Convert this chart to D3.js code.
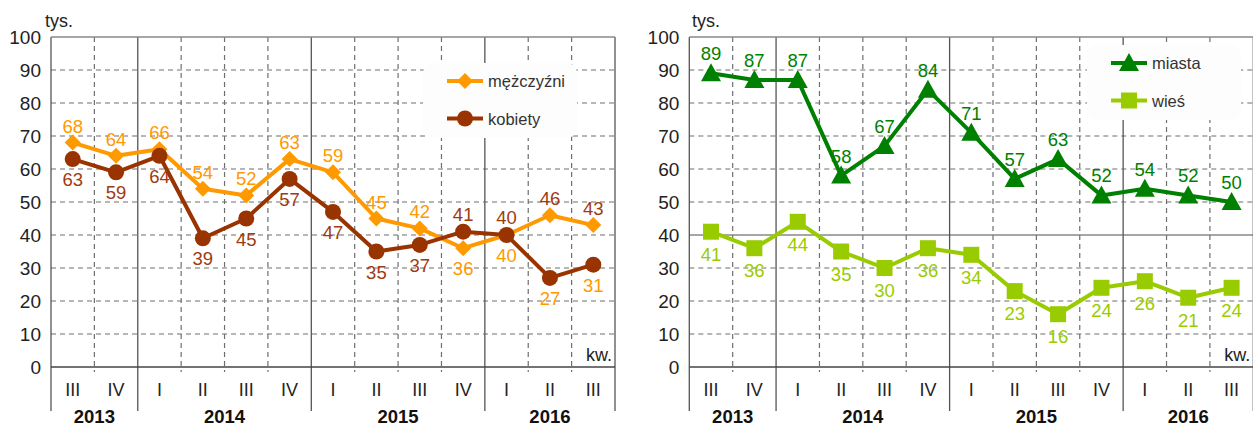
<!DOCTYPE html>
<html>
<head>
<meta charset="utf-8">
<script src="https://cdn.jsdelivr.net/npm/d3@7"></script>
<style>
  body { margin: 0; background: #fff; }
  svg { display: block; font-family: Arial, "Liberation Sans", sans-serif; }
</style>
</head>
<body>
<div id="chart"></div>
<script>
// data
const quarters = ["III", "IV", "I", "II", "III", "IV", "I", "II", "III", "IV", "I", "II", "III"];
const years = ["2013", "2014", "2015", "2016"];
const quartersPerYear = [2, 4, 4, 3];
const yTicks = [0, 10, 20, 30, 40, 50, 60, 70, 80, 90, 100];

const men = [68, 64, 66, 54, 52, 63, 59, 45, 42, 36, 40, 46, 43];
const women = [63, 59, 64, 39, 45, 57, 47, 35, 37, 41, 40, 27, 31];
const cities = [89, 87, 87, 58, 67, 84, 71, 57, 63, 52, 54, 52, 50];
const villages = [41, 36, 44, 35, 30, 36, 34, 23, 16, 24, 26, 21, 24];

// label placement (a = above, b = below)
const menSide = ["a","a","a","a","a","a","a","a","a","b","b","a","a"];
const womenSide = ["b","b","b","b","b","b","b","b","b","a","a","b","b"];
// the original swaps label colours for the last two quarters
const menLabelSwap = [11, 12];
const womenLabelSwap = [11, 12];

const ORANGE = "#ff9900", BROWN = "#993300", DKGREEN = "#008000", LTGREEN = "#99cc00";

const svgWidth = 1253, svgHeight = 428;
const svg = d3.select("#chart").append("svg")
  .attr("width", svgWidth)
  .attr("height", svgHeight);

const plotW = 564, yTop = 37, yBot = 367;

const shapes = {
  diamond: "M0,-8L8,0L0,8L-8,0Z",
  triangle: "M0,-10L10,8L-10,8Z",
  square: "M-8,-8H8V8H-8Z"
};

function drawPanel(cfg) {
  const g = svg.append("g");
  const x0 = cfg.x0;

  const x = d3.scaleBand().domain(d3.range(quarters.length)).range([x0, x0 + plotW]);
  const y = d3.scaleLinear().domain([0, 100]).range([yBot, yTop]);
  const cx = i => x(i) + x.bandwidth() / 2;

  // horizontal grid
  g.selectAll(".hgrid")
    .data(yTicks.filter(d => d > 0 && d < 100))
    .enter().append("line")
    .attr("x1", x0).attr("x2", x0 + plotW)
    .attr("y1", d => y(d)).attr("y2", d => y(d))
    .attr("stroke", d => cfg.solidH.includes(d) ? "#888" : "#6f6f6f")
    .attr("stroke-width", d => cfg.solidH.includes(d) ? 1.6 : 1.2)
    .attr("stroke-dasharray", d => cfg.solidH.includes(d) ? null : "5,4");

  // year boundaries
  const yearBounds = [0];
  quartersPerYear.forEach((n, i) => yearBounds.push(yearBounds[i] + n));
  const innerBounds = d3.range(1, quarters.length).filter(b => !yearBounds.includes(b));

  // quarter dividers (dashed) with small ticks below axis
  innerBounds.forEach(b => {
    g.append("line")
      .attr("x1", x(b)).attr("x2", x(b))
      .attr("y1", yTop).attr("y2", yBot + 5)
      .attr("stroke", "#6f6f6f").attr("stroke-width", 1.2)
      .attr("stroke-dasharray", "5,4");
  });

  // year dividers, left axis and right border
  yearBounds.forEach(b => {
    const xx = b === quarters.length ? x0 + plotW : x(b);
    g.append("line")
      .attr("x1", xx).attr("x2", xx)
      .attr("y1", yTop).attr("y2", 411)
      .attr("stroke", "#555").attr("stroke-width", 1.3);
  });

  // top border and zero line
  g.append("line").attr("x1", x0).attr("x2", x0 + plotW)
    .attr("y1", y(100)).attr("y2", y(100))
    .attr("stroke", "#888").attr("stroke-width", 1.4);
  g.append("line").attr("x1", x0).attr("x2", x0 + plotW)
    .attr("y1", y(0)).attr("y2", y(0))
    .attr("stroke", "#444").attr("stroke-width", 1.4);

  // y tick labels
  g.selectAll(".ytick")
    .data(yTicks)
    .enter().append("text")
    .attr("x", x0 - 10)
    .attr("y", d => y(d) + 7)
    .attr("text-anchor", "end")
    .attr("font-size", 19)
    .attr("fill", "#222")
    .text(d => d);

  g.append("text")
    .attr("x", cfg.tysX).attr("y", 27)
    .attr("font-size", 18).attr("fill", "#222")
    .text("tys.");

  g.append("text")
    .attr("x", x0 + 535).attr("y", 361)
    .attr("font-size", 18).attr("fill", "#222")
    .text("kw.");

  // quarter labels
  g.selectAll(".qlab")
    .data(quarters)
    .enter().append("text")
    .attr("x", (d, i) => cx(i))
    .attr("y", 396)
    .attr("text-anchor", "middle")
    .attr("font-size", 18)
    .attr("fill", "#222")
    .text(d => d);

  // year labels
  years.forEach((yr, i) => {
    const a = x(yearBounds[i]);
    const b = yearBounds[i + 1] === quarters.length ? x0 + plotW : x(yearBounds[i + 1]);
    g.append("text")
      .attr("x", (a + b) / 2)
      .attr("y", 423)
      .attr("text-anchor", "middle")
      .attr("font-size", 18.5)
      .attr("font-weight", "bold")
      .attr("fill", "#111")
      .text(yr);
  });

  // series
  const line = d3.line().x((d, i) => cx(i)).y(d => y(d));
  cfg.series.forEach(s => {
    g.append("path")
      .datum(s.values)
      .attr("d", line)
      .attr("fill", "none")
      .attr("stroke", s.color)
      .attr("stroke-width", 4)
      .attr("stroke-linejoin", "round");
  });

  cfg.series.forEach(s => {
    const marks = g.selectAll(null)
      .data(s.values)
      .enter();
    if (s.shape === "circle") {
      marks.append("circle")
        .attr("cx", (d, i) => cx(i))
        .attr("cy", d => y(d))
        .attr("r", 8)
        .attr("fill", s.color);
    } else {
      marks.append("path")
        .attr("d", shapes[s.shape])
        .attr("transform", (d, i) => `translate(${cx(i)},${y(d)})`)
        .attr("fill", s.color);
    }
  });

  // value labels
  cfg.series.forEach(s => {
    g.selectAll(null)
      .data(s.values)
      .enter().append("text")
      .attr("x", (d, i) => cx(i))
      .attr("y", (d, i) => y(d) + (s.side[i] === "a" ? s.above : s.below))
      .attr("text-anchor", "middle")
      .attr("font-size", 18.5)
      .attr("fill", (d, i) => s.swap.includes(i) ? s.altColor : s.labelColor)
      .text(d => d);
  });

  // legend
  const lg = g.append("g");
  lg.append("rect")
    .attr("x", cfg.legend.x).attr("y", cfg.legend.y)
    .attr("width", 154).attr("height", 75)
    .attr("rx", 10)
    .attr("fill", "#fdfdfd");
  cfg.series.forEach((s, i) => {
    const ly = cfg.legend.y + 18 + i * 37.5;
    const lx = cfg.legend.x + 24;
    lg.append("line")
      .attr("x1", lx).attr("x2", lx + 36)
      .attr("y1", ly).attr("y2", ly)
      .attr("stroke", s.color).attr("stroke-width", 4);
    if (s.shape === "circle") {
      lg.append("circle").attr("cx", lx + 18).attr("cy", ly).attr("r", 8).attr("fill", s.color);
    } else {
      lg.append("path").attr("d", shapes[s.shape])
        .attr("transform", `translate(${lx + 18},${ly})`)
        .attr("fill", s.color);
    }
    lg.append("text")
      .attr("x", lx + 41).attr("y", ly + 6)
      .attr("font-size", 16.5)
      .attr("fill", "#333")
      .text(s.name);
  });
}

drawPanel({
  x0: 51,
  tysX: 45,
  solidH: [],
  legend: { x: 423, y: 63 },
  series: [
    { name: "mężczyźni", values: men, color: ORANGE, shape: "diamond", side: menSide,
      above: -10, below: 27, labelColor: ORANGE, altColor: "#9e3b10", swap: menLabelSwap },
    { name: "kobiety", values: women, color: BROWN, shape: "circle", side: womenSide,
      above: -11, below: 27, labelColor: "#9e3b10", altColor: ORANGE, swap: womenLabelSwap }
  ]
});

drawPanel({
  x0: 689.3,
  tysX: 692,
  solidH: [40],
  legend: { x: 1087, y: 45 },
  series: [
    { name: "miasta", values: cities, color: DKGREEN, shape: "triangle", side: cities.map(() => "a"),
      above: -13, below: 28, labelColor: DKGREEN, altColor: DKGREEN, swap: [] },
    { name: "wieś", values: villages, color: LTGREEN, shape: "square", side: villages.map(() => "b"),
      above: -12, below: 29, labelColor: LTGREEN, altColor: LTGREEN, swap: [] }
  ]
});
</script>
</body>
</html>
